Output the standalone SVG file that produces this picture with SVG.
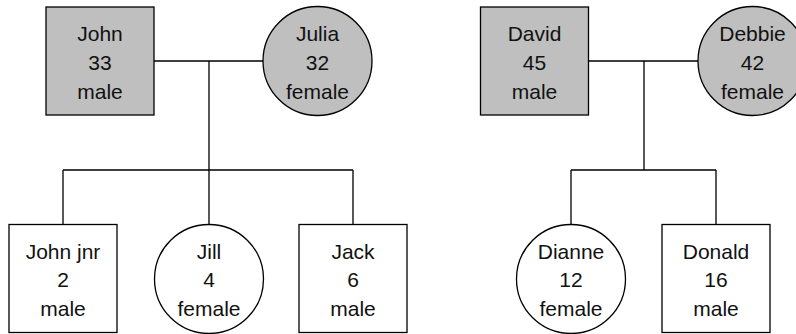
<svg xmlns="http://www.w3.org/2000/svg" width="796" height="334" viewBox="0 0 796 334">
<style>
.n{stroke:#000;stroke-width:1.3}
.p{fill:#bfbfbf}
.c{fill:#fff}
text{font-family:"Liberation Sans",Arial,sans-serif;font-size:21px;text-anchor:middle;fill:#111}
.e{fill:none;stroke:#000;stroke-width:1.3}
</style>
<rect width="796" height="334" fill="#fff"/>
<g id="connectors">
<path class="e" d="M154,61H263M209,61V170M63,170H353M63,170V224.5M209,170V224.5M353,170V224.5"/>
<path class="e" d="M589,61H698M644,61V170M571,170H716M571,170V224.5M716,170V224.5"/>
</g>
<g id="john"><rect class="n p" x="46" y="7" width="108" height="108"/><text x="100" y="41">John</text><text x="100" y="70">33</text><text x="100" y="98.5">male</text></g>
<g id="julia"><circle class="n p" cx="317.5" cy="61" r="54.5"/><text x="317.5" y="41">Julia</text><text x="317.5" y="70">32</text><text x="317.5" y="98.5">female</text></g>
<g id="david"><rect class="n p" x="480.5" y="7" width="108" height="108"/><text x="534.5" y="41">David</text><text x="534.5" y="70">45</text><text x="534.5" y="98.5">male</text></g>
<g id="debbie"><circle class="n p" cx="752.5" cy="61" r="54.5"/><text x="752.5" y="41">Debbie</text><text x="752.5" y="70">42</text><text x="752.5" y="98.5">female</text></g>
<g id="johnjnr"><rect class="n c" x="9" y="224.5" width="108" height="108"/><text x="63" y="258.5">John jnr</text><text x="63" y="287">2</text><text x="63" y="315.5">male</text></g>
<g id="jill"><circle class="n c" cx="209" cy="279" r="54.5"/><text x="209" y="258.5">Jill</text><text x="209" y="287">4</text><text x="209" y="315.5">female</text></g>
<g id="jack"><rect class="n c" x="299" y="224.5" width="108" height="108"/><text x="353" y="258.5">Jack</text><text x="353" y="287">6</text><text x="353" y="315.5">male</text></g>
<g id="dianne"><circle class="n c" cx="571" cy="279" r="54.5"/><text x="571" y="258.5">Dianne</text><text x="571" y="287">12</text><text x="571" y="315.5">female</text></g>
<g id="donald"><rect class="n c" x="662" y="224.5" width="108" height="108"/><text x="716" y="258.5">Donald</text><text x="716" y="287">16</text><text x="716" y="315.5">male</text></g>
</svg>
